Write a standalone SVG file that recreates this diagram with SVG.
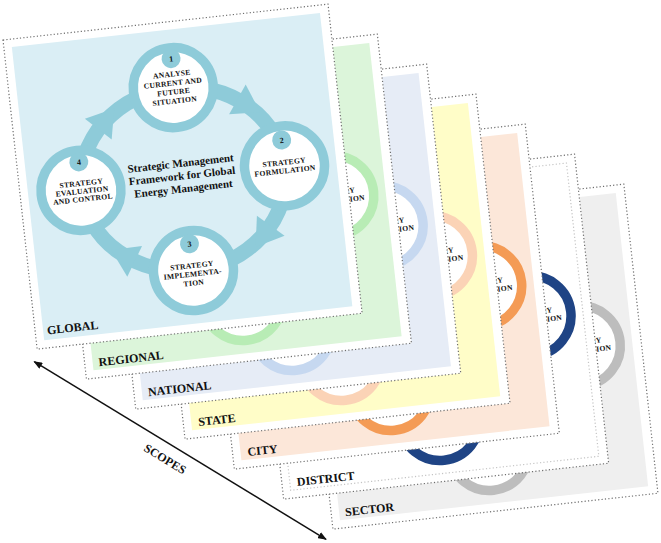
<svg xmlns="http://www.w3.org/2000/svg" xmlns:xlink="http://www.w3.org/1999/xlink" width="661" height="543" viewBox="0 0 661 543">
<style>
.border{fill:#fff;stroke:#6e6e6e;stroke-width:1.2;stroke-dasharray:1.2 2.2}
.inner{fill:none;stroke:#c4c4c4;stroke-width:1.2;stroke-dasharray:1.2 2.2}
.band{fill:none;stroke:currentColor;stroke-width:15}
.head{fill:currentColor}
.ring{fill:#fff;stroke:currentColor;stroke-width:9.5}
.badge{fill:currentColor}
.t{font-family:"Liberation Serif","Times New Roman",serif;font-weight:bold;fill:#111;text-anchor:middle}
.lbl{font-size:7.6px;letter-spacing:0.3px}
.num{font-size:8px}
.title{font-size:11px}
.cap{font-family:"Liberation Serif","Times New Roman",serif;font-weight:bold;font-size:12px;fill:#111}
.scope-line{stroke:#111;stroke-width:1.5;fill:none}
</style>
<defs>
<marker id="ah" markerWidth="9" markerHeight="7" refX="8" refY="3.5" orient="auto-start-reverse" markerUnits="userSpaceOnUse">
<path d="M0,0 L9,3.5 L0,7 z" fill="#111"/>
</marker>
</defs>

<!-- SECTOR -->
<g id="card-sector" transform="translate(298.8,220) rotate(-6.3)" style="color:#bdbdbd">
<rect class="border" x="0" y="0" width="327" height="311"/>
<rect x="8" y="8" width="310" height="295" fill="#efefef"/>
<use href="#diagram" xlink:href="#diagram"/>
<text class="cap" x="14" y="299.5">SECTOR</text>
</g>

<!-- DISTRICT -->
<g id="card-district" transform="translate(249.5,190) rotate(-6.3)" style="color:#1f4485">
<rect class="border" x="0" y="0" width="327" height="311"/>
<rect class="inner" x="8" y="8" width="310" height="295" fill="#fff"/>
<use href="#diagram" xlink:href="#diagram"/>
<text class="cap" x="15" y="299.5">DISTRICT</text>
</g>

<!-- CITY -->
<g id="card-city" transform="translate(200.2,160) rotate(-6.3)" style="color:#f49b55">
<rect class="border" x="0" y="0" width="327" height="311"/>
<rect x="8" y="8" width="310" height="295" fill="#fce7d9"/>
<use href="#diagram" xlink:href="#diagram"/>
<text class="cap" x="15" y="299.5">CITY</text>
</g>

<!-- STATE -->
<g id="card-state" transform="translate(150.9,130) rotate(-6.3)" style="color:#fbd3b6">
<rect class="border" x="0" y="0" width="327" height="311"/>
<rect x="8" y="8" width="310" height="295" fill="#fffdc8"/>
<use href="#diagram" xlink:href="#diagram"/>
<text class="cap" x="15" y="299.5">STATE</text>
</g>

<!-- NATIONAL -->
<g id="card-national" transform="translate(101.6,100) rotate(-6.3)" style="color:#c6d8f0">
<rect class="border" x="0" y="0" width="327" height="311"/>
<rect x="8" y="8" width="310" height="295" fill="#e6ecf6"/>
<use href="#diagram" xlink:href="#diagram"/>
<text class="cap" x="14" y="299.5">NATIONAL</text>
</g>

<!-- REGIONAL -->
<g id="card-regional" transform="translate(52.3,70) rotate(-6.3)" style="color:#b8ecb5">
<rect class="border" x="0" y="0" width="327" height="311"/>
<rect x="8" y="8" width="310" height="295" fill="#dcf5da"/>
<use href="#diagram" xlink:href="#diagram"/>
<text class="cap" x="14" y="299.5">REGIONAL</text>
</g>

<!-- GLOBAL (front) -->
<g id="card-global" transform="translate(3,40) rotate(-6.3)" style="color:#8ecbd9">
<rect class="border" x="0" y="0" width="327" height="311"/>
<rect x="8" y="8" width="310" height="295" fill="#daeef5"/>
<g id="diagram">
  <g id="connectors">
    <ellipse class="band" cx="164" cy="158" rx="102.5" ry="92"/>
    <polygon class="head" points="-2,-17 24,0 -2,17" transform="translate(228.1,86) rotate(35.4)"/>
    <polygon class="head" points="-2,-17 24,0 -2,17" transform="translate(244.4,215.5) rotate(131.9)"/>
    <polygon class="head" points="-2,-17 24,0 -2,17" transform="translate(104.9,233.4) rotate(212)"/>
    <polygon class="head" points="-2,-17 24,0 -2,17" transform="translate(86.3,97.6) rotate(-45.75)"/>
  </g>
  <g id="node-1">
    <circle class="ring" cx="164" cy="66" r="40"/>
    <circle class="badge" cx="165" cy="37" r="9.5"/>
    <text class="t num" x="165" y="40">1</text>
    <text class="t lbl" x="164"><tspan x="164" y="55">ANALYSE</tspan><tspan x="164" y="64">CURRENT AND</tspan><tspan x="164" y="73">FUTURE</tspan><tspan x="164" y="82">SITUATION</tspan></text>
  </g>
  <g id="node-2">
    <circle class="ring" cx="266" cy="156" r="40"/>
    <circle class="badge" cx="266" cy="130" r="9.5"/>
    <text class="t num" x="266" y="133">2</text>
    <text class="t lbl" x="266"><tspan x="266" y="155">STRATEGY</tspan><tspan x="266" y="163.5">FORMULATION</tspan></text>
  </g>
  <g id="node-3">
    <circle class="ring" cx="164" cy="250" r="40"/>
    <circle class="badge" cx="163" cy="223" r="9.5"/>
    <text class="t num" x="163" y="226">3</text>
    <text class="t lbl" x="163"><tspan x="163" y="247.5">STRATEGY</tspan><tspan x="163" y="256">IMPLEMENTA-</tspan><tspan x="163" y="265">TION</tspan></text>
  </g>
  <g id="node-4">
    <circle class="ring" cx="61" cy="158" r="40"/>
    <circle class="badge" cx="62" cy="129.5" r="9.5"/>
    <text class="t num" x="62" y="132.5">4</text>
    <text class="t lbl" x="62"><tspan x="62" y="153.5">STRATEGY</tspan><tspan x="62" y="161.5">EVALUATION</tspan><tspan x="62" y="169.5">AND CONTROL</tspan></text>
  </g>
  <text class="t title" x="163"><tspan x="163" y="145.7">Strategic Management</tspan><tspan x="163" y="158.3">Framework for Global</tspan><tspan x="163" y="171.3">Energy Management</tspan></text>
</g>
<text class="cap" x="12" y="297.5">GLOBAL</text>
</g>

<!-- SCOPES axis -->
<g id="scopes">
<line class="scope-line" x1="34.3" y1="361.7" x2="326" y2="539.3" marker-start="url(#ah)" marker-end="url(#ah)"/>
<text class="cap" text-anchor="middle" transform="translate(165,459) rotate(31.3)" x="0" y="4">SCOPES</text>
</g>
</svg>
